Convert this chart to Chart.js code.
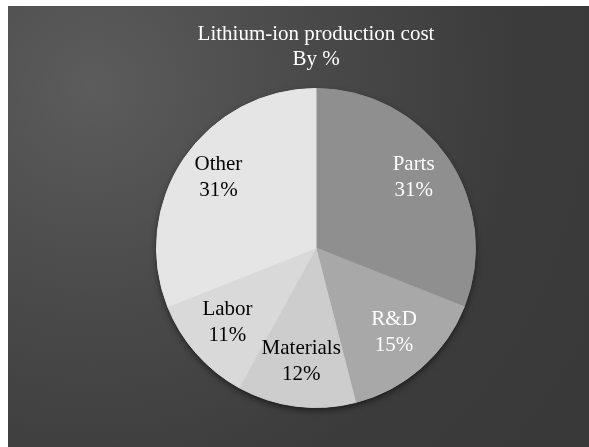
<!DOCTYPE html>
<html>
<head>
<meta charset="utf-8">
<script src="https://cdn.jsdelivr.net/npm/chart.js@4"></script>
<style>
  html, body { margin: 0; padding: 0; background: #ffffff; }
  #wrap {
    position: absolute; left: 8px; top: 6px; width: 581px; height: 441px;
    background: radial-gradient(circle at 85px 80px, #5c5c5c 0%, #4a4a4a 35%, #3b3b3b 70%, #393939 100%);
  }
</style>
</head>
<body>
<div id="wrap"><canvas id="grafico"></canvas></div>
<script>
const categorias = ['Parts', 'R&D', 'Materials', 'Labor', 'Other'];
const valores = [31, 15, 12, 11, 31];
const colores = ['#8f8f8f', '#a8a8a8', '#cdcdcd', '#d9d9d9', '#e5e5e5'];
const coloresTexto = ['#ffffff', '#ffffff', '#000000', '#000000', '#000000'];

// etiquetas dentro de cada sector
const etiquetas = {
  id: 'etiquetas',
  afterDatasetsDraw(chart) {
    const ctx = chart.ctx;
    const arcs = chart.getDatasetMeta(0).data;
    ctx.save();
    ctx.font = '21px "Liberation Serif", "Times New Roman", serif';
    ctx.textAlign = 'center';
    ctx.textBaseline = 'middle';
    arcs.forEach((arc, i) => {
      const p = arc.getProps(['x', 'y', 'startAngle', 'endAngle', 'outerRadius']);
      const ang = (p.startAngle + p.endAngle) / 2;
      const r = p.outerRadius * 0.74;
      const x = p.x + Math.cos(ang) * r;
      const y = p.y + Math.sin(ang) * r - 4;
      ctx.fillStyle = coloresTexto[i];
      ctx.fillText(categorias[i], x, y - 13);
      ctx.fillText(valores[i] + '%', x, y + 13);
    });
    ctx.restore();
  }
};

// sombra suave bajo el pastel (un solo círculo, sin costuras)
const sombra = {
  id: 'sombra',
  beforeDatasetsDraw(chart) {
    const arc = chart.getDatasetMeta(0).data[0];
    if (!arc) return;
    const p = arc.getProps(['x', 'y', 'outerRadius']);
    const ctx = chart.ctx;
    ctx.save();
    ctx.shadowColor = 'rgba(0,0,0,0.6)';
    ctx.shadowBlur = 7;
    ctx.shadowOffsetY = 3;
    ctx.fillStyle = '#bdbdbd';
    ctx.beginPath();
    ctx.arc(p.x, p.y, p.outerRadius - 0.5, 0, Math.PI * 2);
    ctx.fill();
    ctx.restore();
  }
};

const ctx = document.getElementById('grafico').getContext('2d');
new Chart(ctx, {
  type: 'pie',
  data: {
    labels: categorias,
    datasets: [{
      data: valores,
      backgroundColor: colores,
      borderColor: colores,
      borderWidth: 1
    }]
  },
  options: {
    responsive: true,
    maintainAspectRatio: false,
    animation: false,
    layout: { padding: { left: 60, right: 25, top: 0, bottom: 39 } },
    plugins: {
      legend: { display: false },
      tooltip: { enabled: false },
      title: {
        display: true,
        text: ['Lithium-ion production cost', 'By %'],
        color: '#ffffff',
        font: { family: '"Liberation Serif", "Times New Roman", serif', size: 21, weight: 'normal', lineHeight: 1.19 },
        padding: { top: 16, bottom: 16 }
      }
    }
  },
  plugins: [sombra, etiquetas]
});
</script>
</body>
</html>
